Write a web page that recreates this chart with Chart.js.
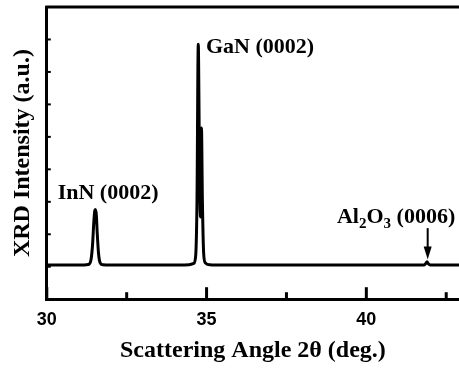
<!DOCTYPE html>
<html>
<head>
<meta charset="utf-8">
<script src="https://cdn.jsdelivr.net/npm/chart.js@4.4.3/dist/chart.umd.min.js"></script>
<style>
  html, body { margin: 0; padding: 0; background: #fff; overflow: hidden; }
  #wrap { width: 459px; height: 373px; }
</style>
</head>
<body>
<div id="wrap"><canvas id="xrd" width="459" height="373"></canvas></div>
<script>
// scan: 2theta (deg) and intensity (a.u.)
const twoTheta = [
  30.0, 31.0, 31.30, 31.38, 31.43, 31.47, 31.50, 31.52, 31.55, 31.58, 31.62, 31.67, 31.75, 32.0,
  33.0, 34.0, 34.45, 34.60, 34.66, 34.70, 34.74, 34.78, 34.81, 34.84, 34.87, 34.91, 34.96, 35.10, 35.5,
  37.0, 39.0, 41.0, 41.80, 41.86, 41.90, 41.94, 42.0, 42.9
];
const intensity = [
  1.05, 1.05, 1.07, 1.2, 1.65, 2.35, 2.72, 2.76, 2.6, 2.0, 1.4, 1.12, 1.06, 1.05,
  1.05, 1.05, 1.06, 1.1, 1.35, 3.0, 7.85, 4.0, 2.53, 5.27, 3.0, 1.4, 1.12, 1.06, 1.05,
  1.05, 1.05, 1.05, 1.05, 1.1, 1.15, 1.09, 1.05, 1.05
];

const majorTicks = [30, 35, 40];
const minorTicks = [32.5, 37.5, 42.5];
const yTicks = [1, 2, 3, 4, 5, 6, 7, 8];

// peak labels: [text, x, y] anchored in data units (left, baseline)
const peakLabels = [
  ["InN (0002)", 30.34, 3.08],
  ["GaN (0002)", 34.98, 7.58]
];
const al2o3Label = [39.08, 2.34];
const arrowFromTo = [41.92, 2.19, 1.22];

const SERIF = "'Liberation Serif', 'Times New Roman', serif";
const SANS = "'Liberation Sans', Arial, sans-serif";

const framePlugin = {
  id: "frame",
  afterDraw(chart) {
    const { ctx, chartArea: a, scales: { x, y } } = chart;
    ctx.save();
    ctx.strokeStyle = "#000";
    ctx.fillStyle = "#000";
    ctx.lineCap = "butt";

    // top frame line
    ctx.lineWidth = 3;
    ctx.beginPath();
    ctx.moveTo(a.left - 1.5, a.top);
    ctx.lineTo(a.right + 2, a.top);
    ctx.stroke();

    // inward ticks on the bottom axis
    majorTicks.concat(minorTicks).forEach(v => {
      const px = x.getPixelForValue(v);
      const len = majorTicks.includes(v) ? 12 : 7;
      ctx.beginPath();
      ctx.moveTo(px, a.bottom);
      ctx.lineTo(px, a.bottom - len);
      ctx.stroke();
    });

    // inward ticks on the left axis
    ctx.lineWidth = 2;
    yTicks.forEach(v => {
      const py = y.getPixelForValue(v);
      ctx.beginPath();
      ctx.moveTo(a.left, py);
      ctx.lineTo(a.left + 4, py);
      ctx.stroke();
    });

    // peak labels
    ctx.textBaseline = "alphabetic";
    ctx.textAlign = "left";
    ctx.font = "bold 22px " + SERIF;
    peakLabels.forEach(([t, lx, ly]) => {
      ctx.fillText(t, x.getPixelForValue(lx), y.getPixelForValue(ly));
    });

    // Al2O3 (0006) with subscripts
    let tx = x.getPixelForValue(al2o3Label[0]);
    const ty = y.getPixelForValue(al2o3Label[1]);
    const parts = [["Al", false], ["2", true], ["O", false], ["3", true], [" (0006)", false]];
    parts.forEach(([t, sub]) => {
      ctx.font = sub ? "bold 15px " + SERIF : "bold 22px " + SERIF;
      ctx.fillText(t, tx, sub ? ty + 5 : ty);
      tx += ctx.measureText(t).width;
    });

    // arrow to the sapphire peak
    const ax = x.getPixelForValue(arrowFromTo[0]);
    const ay0 = y.getPixelForValue(arrowFromTo[1]);
    const ay1 = y.getPixelForValue(arrowFromTo[2]);
    ctx.lineWidth = 2;
    ctx.beginPath();
    ctx.moveTo(ax, ay0);
    ctx.lineTo(ax, ay1 - 10);
    ctx.stroke();
    ctx.beginPath();
    ctx.moveTo(ax - 4, ay1 - 13);
    ctx.lineTo(ax + 4, ay1 - 13);
    ctx.lineTo(ax, ay1);
    ctx.closePath();
    ctx.fill();
    ctx.restore();
  }
};

new Chart(document.getElementById("xrd"), {
  type: "line",
  data: {
    datasets: [{
      data: twoTheta.map((t, i) => ({ x: t, y: intensity[i] })),
      borderColor: "#000",
      borderWidth: 3,
      pointRadius: 0,
      cubicInterpolationMode: "monotone",
      fill: false
    }]
  },
  options: {
    responsive: false,
    animation: false,
    layout: { padding: { left: 0, right: 0, top: 7, bottom: 0 } },
    plugins: { legend: { display: false }, tooltip: { enabled: false } },
    scales: {
      x: {
        type: "linear",
        min: 30,
        max: 42.9,
        afterBuildTicks: s => { s.ticks = majorTicks.concat(minorTicks).sort((a, b) => a - b).map(v => ({ value: v })); },
        ticks: {
          color: "#000",
          font: { family: SANS, size: 18, weight: "bold" },
          padding: 10,
          maxRotation: 0,
          autoSkip: false,
          callback: v => (majorTicks.includes(v) ? String(v) : "")
        },
        grid: { display: false, drawTicks: false },
        border: { display: true, color: "#000", width: 3 },
        title: {
          display: true,
          text: "Scattering Angle 2θ (deg.)",
          color: "#000",
          font: { family: SERIF, size: 24, weight: "bold", lineHeight: 0.8 },
          padding: { top: 0, bottom: 13 }
        }
      },
      y: {
        min: 0,
        max: 9,
        ticks: { display: false, stepSize: 1 },
        grid: { display: false, drawTicks: false },
        border: { display: true, color: "#000", width: 3 },
        title: {
          display: true,
          text: "XRD Intensity (a.u.)",
          color: "#000",
          font: { family: SERIF, size: 24, weight: "bold" },
          padding: { top: 8, bottom: 10 }
        }
      }
    }
  },
  plugins: [framePlugin]
});
</script>
</body>
</html>
